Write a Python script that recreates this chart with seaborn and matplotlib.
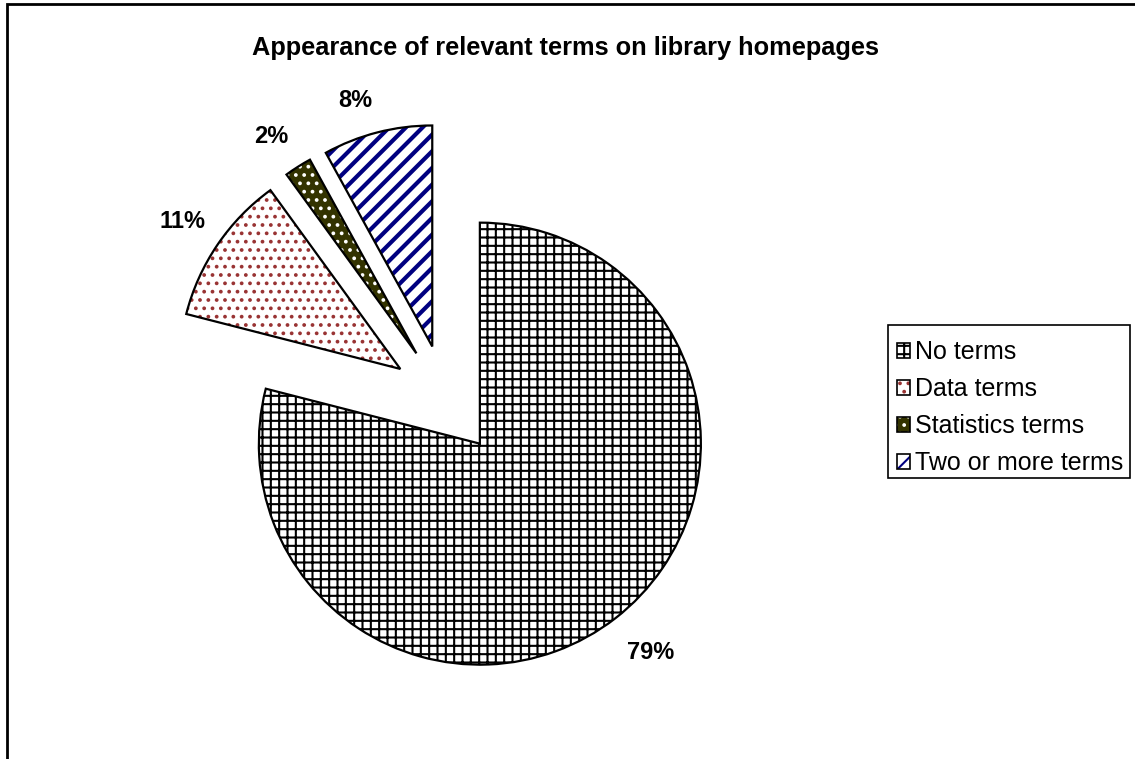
import matplotlib
matplotlib.use("Agg")
import numpy as np
import matplotlib.pyplot as plt
import matplotlib.colors as mcolors
from matplotlib.patches import Patch, Rectangle
from matplotlib.legend_handler import HandlerTuple
import seaborn as sns

sns.set_theme(style="white")
plt.rcParams['font.family'] = ['Liberation Sans', 'DejaVu Sans']
plt.rcParams['text.color'] = 'black'
plt.rcParams['hatch.linewidth'] = 1.5

# ---- data ----
categories = ["No terms", "Data terms", "Statistics terms", "Two or more terms"]
shares = [79, 11, 2, 8]
title = "Appearance of relevant terms on library homepages"

# ---- styles ----
face_colors = ["white", "white", "#333300", "white"]
hatch_colors = ["black", "#993333", "white", "#000080"]
hatches = ["++", "..", "..", "//"]
hatch_widths = [1.5, 1.5, 1.5, 3.0]
explode = [0.25] * len(shares)
label_dist = [1.22, 1.19, 1.18, 1.165]
label_angle_nudge = [1.5, 0.0, 1.4, 3.1]

W, H, DPI = 1135, 759, 100
fig = plt.figure(figsize=(W / DPI, H / DPI), dpi=DPI)
ax = fig.add_axes([0, 0, 1, 1])

R_PX = 221.0
CX, CY = 446.0, 400.0


def set_hatch_style(p, hc, hw):
    p.set_edgecolor("none")
    if hasattr(p, "set_hatchcolor"):
        p.set_hatchcolor(hc)
    else:
        p._hatch_color = mcolors.to_rgba(hc)
    if hasattr(p, "set_hatch_linewidth"):
        p.set_hatch_linewidth(hw)
    else:
        p._hatch_linewidth = hw


wedges, texts, autotexts = ax.pie(
    shares, explode=explode, startangle=90, counterclock=False,
    colors=face_colors, autopct="%.0f%%", pctdistance=1.2,
    wedgeprops=dict(linewidth=0),
    textprops=dict(fontsize=17, fontweight="bold", color="black"),
)
for w, h, hc, hw in zip(wedges, hatches, hatch_colors, hatch_widths):
    w.set_hatch(h)
    set_hatch_style(w, hc, hw)

# place percentage labels along each wedge's bisector
for w, t, d, a in zip(wedges, autotexts, label_dist, label_angle_nudge):
    mid = np.deg2rad((w.theta1 + w.theta2) / 2 + a)
    cx, cy = w.center
    t.set_position((cx + d * w.r * np.cos(mid), cy + d * w.r * np.sin(mid)))

# outlines on top
ax.pie(shares, explode=explode, startangle=90, counterclock=False,
       wedgeprops=dict(fill=False, edgecolor="black", linewidth=1.6))

ax.set_aspect("auto")
ax.set_xlim(-CX / R_PX, (W - CX) / R_PX)
ax.set_ylim(-(H - CY) / R_PX, CY / R_PX)
ax.axis("off")

fig.text(565 / W, 1 - 48 / H, title, ha="center", va="center",
         fontsize=18.3, fontweight="bold")

# legend handles: hatched patch + black outline
handles = []
for fc, h, hc, hw in zip(face_colors, hatches, hatch_colors, hatch_widths):
    p1 = Patch(facecolor=fc, hatch=h)
    set_hatch_style(p1, hc, 1.0)
    p2 = Patch(facecolor="none", edgecolor="black", linewidth=1.2)
    handles.append((p1, p2))

leg = fig.legend(handles, categories,
                 handler_map={tuple: HandlerTuple(ndivide=1, pad=0)},
                 loc="upper left", bbox_to_anchor=(882 / W, 1 - 325 / H),
                 bbox_transform=fig.transFigure, borderaxespad=0,
                 fontsize=18, frameon=False,
                 handlelength=0.5, handleheight=0.5, handletextpad=0.2,
                 labelspacing=0.52, borderpad=0.61)

# legend frame
fig.add_artist(Rectangle((888 / W, 1 - 478 / H), (1130 - 888) / W, (478 - 325) / H,
                         transform=fig.transFigure, fill=False,
                         edgecolor="black", linewidth=1.2))

# chart-area border (top and left visible)
fig.add_artist(Rectangle((7 / W, -0.05), 1.2, 1 - 4 / H + 0.05,
                         transform=fig.transFigure, fill=False,
                         edgecolor="black", linewidth=2.0))

fig.savefig("out.png", dpi=DPI, facecolor="white")
